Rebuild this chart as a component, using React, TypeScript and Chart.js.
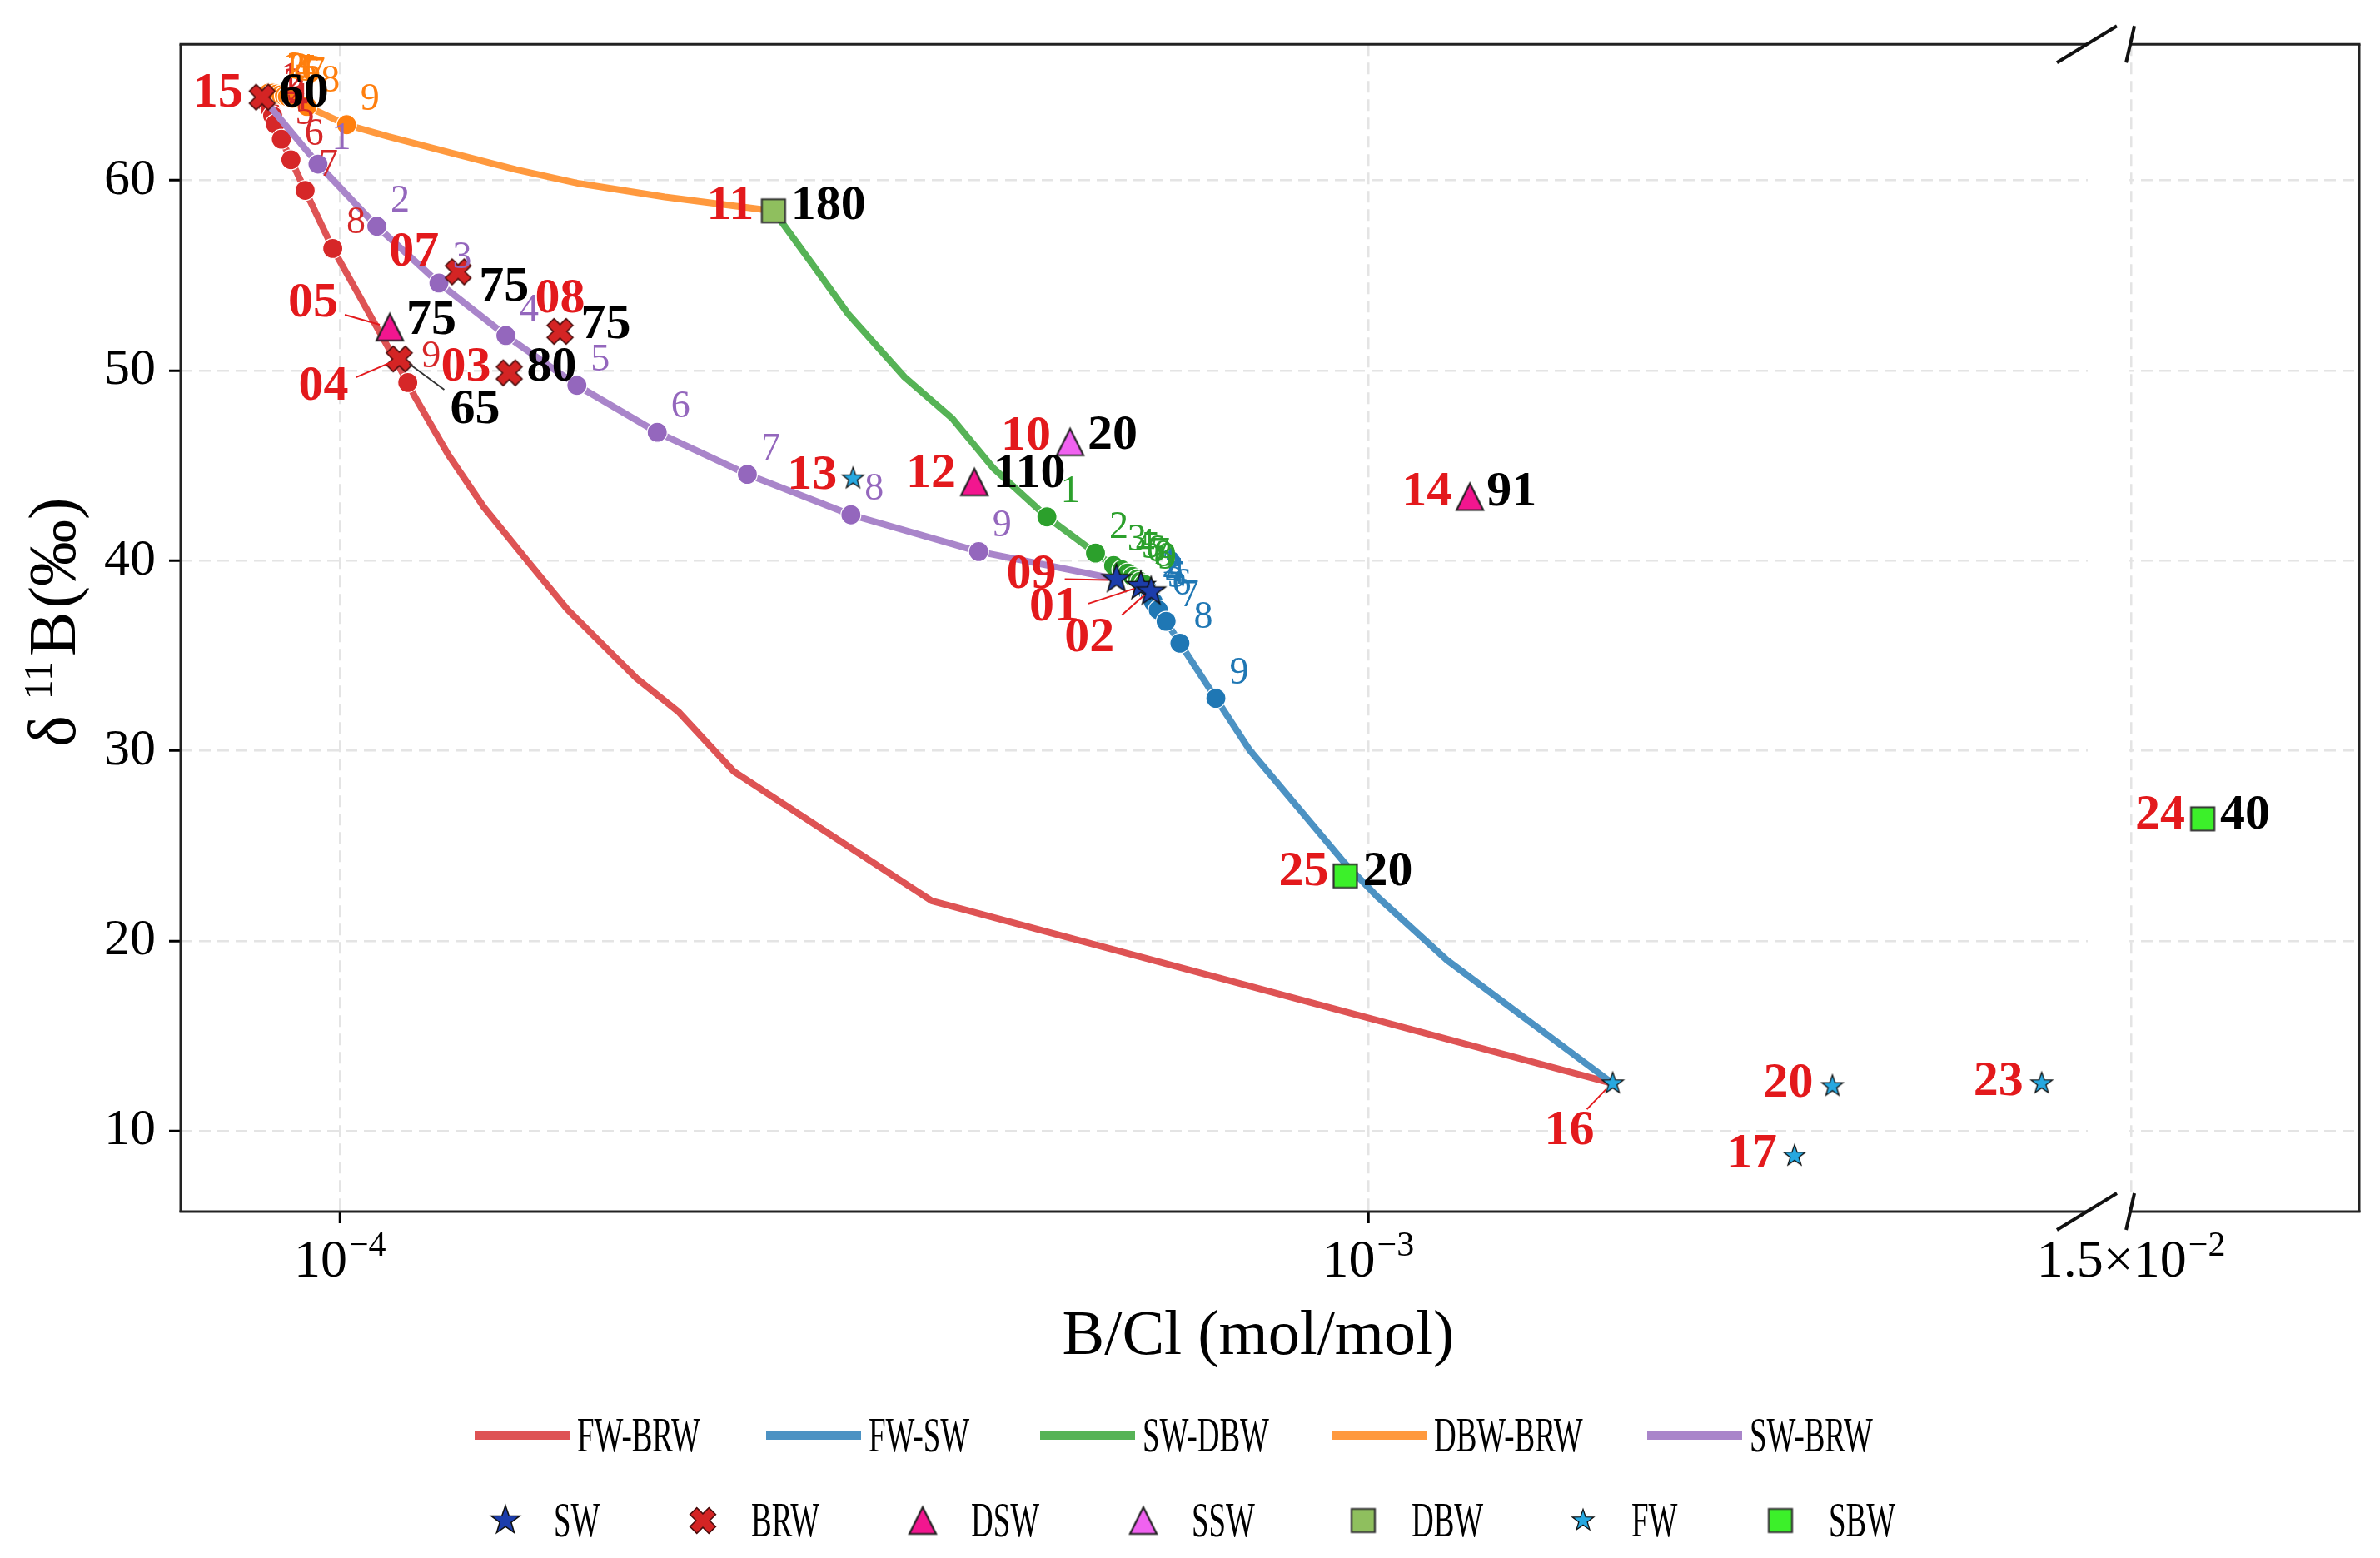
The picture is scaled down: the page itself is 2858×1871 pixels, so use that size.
import { useEffect, useRef } from "react"
import { Chart, registerables, LogarithmicScale } from "chart.js"

Chart.register(...registerables)

const FONT = '"Liberation Serif", "Times New Roman", serif'

// ---- axes ----
const X_LEFT = [7e-5, 5e-3] // left part of the broken B/Cl axis
const X_RIGHT = [1.5e-2, 2.5e-2] // right part after the break
const X_TICKS = [1e-4, 1e-3, 1.5e-2]
const X_TICK_BASE = ["10", "10", "1.5×10"]
const X_TICK_EXP = ["−4", "−3", "−2"]
const Y_MIN = 5.76
const Y_MAX = 67.16
const Y_TICKS = [10, 20, 30, 40, 50, 60]

// ---- mixing curves (B/Cl, δ11B), mixing steps 1..9 ----
const CURVE_NAMES = ["FW-BRW", "FW-SW", "SW-DBW", "DBW-BRW", "SW-BRW"]

const FW_BRW_X = [8.4e-5, 8.49e-5, 8.55e-5, 8.6e-5, 8.65e-5, 8.77e-5, 8.96e-5, 9.25e-5, 9.84e-5, 1.164e-4, 1.182e-4, 1.274e-4, 1.38e-4, 1.525e-4, 1.664e-4, 1.826e-4, 1.943e-4, 2.133e-4, 2.417e-4, 3.763e-4, 1.729e-3]
const FW_BRW_Y = [64.38, 64.06, 63.76, 63.41, 62.97, 62.17, 61.09, 59.48, 56.42, 49.37, 48.64, 45.59, 42.82, 39.92, 37.44, 35.26, 33.81, 32.06, 28.9, 22.1, 12.5]
const FW_BRW_STEP = ["", "1", "2", "3", "4", "5", "6", "7", "8", "9", "", "", "", "", "", "", "", "", "", "", ""]

const FW_SW_X = [6.07e-4, 6.09e-4, 6.11e-4, 6.14e-4, 6.16e-4, 6.18e-4, 6.25e-4, 6.36e-4, 6.56e-4, 7.11e-4, 7.67e-4, 8.6e-4, 9.5e-4, 1.021e-3, 1.193e-3, 1.729e-3]
const FW_SW_Y = [38.73, 38.56, 38.34, 38.17, 37.99, 37.83, 37.41, 36.81, 35.66, 32.76, 30.03, 26.84, 24.06, 22.32, 18.99, 12.5]
const FW_SW_STEP = ["", "1", "2", "3", "4", "5", "6", "7", "8", "9", "", "", "", "", "", ""]

const SW_DBW_X = [2.64e-4, 2.88e-4, 3.12e-4, 3.54e-4, 3.94e-4, 4.32e-4, 4.87e-4, 5.43e-4, 5.655e-4, 5.76e-4, 5.835e-4, 5.9e-4, 5.96e-4, 6.0e-4, 6.05e-4, 6.09e-4]
const SW_DBW_Y = [58.4, 55.6, 52.98, 49.66, 47.48, 44.86, 42.3, 40.4, 39.74, 39.52, 39.35, 39.17, 39.04, 38.91, 38.78, 38.55]
const SW_DBW_STEP = ["", "", "", "", "", "", "1", "2", "3", "4", "5", "6", "7", "8", "9", ""]

const DBW_BRW_X = [8.4e-5, 8.52e-5, 8.6e-5, 8.68e-5, 8.76e-5, 8.83e-5, 8.89e-5, 8.99e-5, 9.29e-5, 1.015e-4, 1.114e-4, 1.285e-4, 1.483e-4, 1.708e-4, 2.07e-4, 2.64e-4]
const DBW_BRW_Y = [64.38, 64.59, 64.59, 64.54, 64.5, 64.45, 64.41, 64.32, 63.89, 62.93, 62.31, 61.44, 60.57, 59.84, 59.13, 58.4]
const DBW_BRW_STEP = ["", "1", "2", "3", "4", "5", "6", "7", "8", "9", "", "", "", "", "", ""]

const SW_BRW_X = [8.4e-5, 9.52e-5, 1.086e-4, 1.248e-4, 1.45e-4, 1.7e-4, 2.035e-4, 2.49e-4, 3.14e-4, 4.18e-4, 5.69e-4]
const SW_BRW_Y = [64.38, 60.86, 57.59, 54.6, 51.84, 49.22, 46.75, 44.54, 42.41, 40.48, 39.03]
const SW_BRW_STEP = ["", "1", "2", "3", "4", "5", "6", "7", "8", "9", ""]

// ---- samples ----
const GROUP_NAMES = ["SW", "BRW", "DSW", "SSW", "DBW", "FW", "SBW"]

const SW_ID = ["09", "01", "02"]
const SW_X = [5.69e-4, 6.01e-4, 6.15e-4]
const SW_Y = [39.03, 38.66, 38.37]

const BRW_ID = ["15", "07", "08", "03", "04"]
const BRW_X = [8.4e-5, 1.303e-4, 1.637e-4, 1.461e-4, 1.142e-4]
const BRW_Y = [64.38, 55.19, 52.06, 49.88, 50.61]
const BRW_VAL = ["60", "75", "75", "80", "65"]

const DSW_ID = ["05", "12", "14"]
const DSW_X = [1.118e-4, 4.14e-4, 1.256e-3]
const DSW_Y = [52.28, 44.13, 43.36]
const DSW_VAL = ["75", "110", "91"]

const SSW_ID = ["10"]
const SSW_X = [5.13e-4]
const SSW_Y = [46.24]
const SSW_VAL = ["20"]

const DBW_ID = ["11"]
const DBW_X = [2.64e-4]
const DBW_Y = [58.4]
const DBW_VAL = ["180"]

const FW_ID = ["16", "13", "20", "17", "23"]
const FW_X = [1.729e-3, 3.155e-4, 2.828e-3, 2.598e-3, 4.519e-3]
const FW_Y = [12.5, 44.32, 12.36, 8.69, 12.5]

const SBW_ID = ["25", "24"]
const SBW_X = [9.5e-4, 1.761e-2]
const SBW_Y = [23.41, 26.42]
const SBW_VAL = ["20", "40"]

// ---- styles ----
const LINE_COLORS = ["#de5354", "#4c92c3", "#56b356", "#ff993e", "#a985ca"]
const DOT_COLORS = ["#d62728", "#1f77b4", "#2ca02c", "#ff7f0e", "#9467bd"]
const ID_RED = "#e3191c"
const GRID = "#e4e4e4"

type MarkStyle = { shape: string; size: number; fill: string; stroke: string; lw: number }
const MARKER_STYLE: Record<string, MarkStyle> = {
  SW: { shape: "star", size: 18, fill: "#1c3dab", stroke: "#111", lw: 1.6 },
  BRW: { shape: "x", size: 16, fill: "#d42424", stroke: "#4a0d0d", lw: 1.6 },
  DSW: { shape: "tri", size: 16, fill: "#f2168f", stroke: "#222", lw: 2.2 },
  SSW: { shape: "tri", size: 16, fill: "#f062f0", stroke: "#222", lw: 2.2 },
  DBW: { shape: "square", size: 14, fill: "#8fbf5e", stroke: "#333", lw: 2.2 },
  FW: { shape: "star", size: 13.5, fill: "#27a8e0", stroke: "#111", lw: 1.3 },
  SBW: { shape: "square", size: 14, fill: "#3cf02a", stroke: "#333", lw: 2.2 },
}

// label offsets (px) from each sample marker
const LABEL_AT: Record<string, { id: number[]; val?: number[]; lead?: number[]; valLead?: number[] }> = {
  "15": { id: [-53, -4], val: [50, -4] },
  "07": { id: [-53, -23], val: [55, 19] },
  "08": { id: [0, -38], val: [55, -7] },
  "05": { id: [-92, -28], val: [50, -7], lead: [-54, -15, -12, -3] },
  "04": { id: [-91, 33], val: [91, 61], lead: [-52, 22, -10, 4], valLead: [12, 6, 54, 37] },
  "03": { id: [-52, -6], val: [51, -6] },
  "11": { id: [-52, -6], val: [66, -6] },
  "10": { id: [-53, -6], val: [51, -7] },
  "12": { id: [-52, -9], val: [66, -9] },
  "13": { id: [-49, -3] },
  "09": { id: [-102, -5], lead: [-62, 0, -10, 1] },
  "01": { id: [-104, 26], lead: [-63, 21, -8, 3] },
  "02": { id: [-74, 56], lead: [-35, 28, -8, 4] },
  "14": { id: [-52, -5], val: [50, -5] },
  "25": { id: [-50, -5], val: [51, -5] },
  "24": { id: [-51, -4], val: [51, -4] },
  "16": { id: [-52, 57], lead: [-31, 31, -8, 7] },
  "20": { id: [-53, -3] },
  "17": { id: [-51, -2] },
  "23": { id: [-52, -2] },
}

const LEGEND_LINE_X = [570, 920, 1249, 1599, 1978]
const LEGEND_MARK_X = [607, 844, 1108, 1373, 1637, 1901, 2138]

// ---- broken log scale ----
const BREAK_GAP = 0.0203
const LEFT_DEC = Math.log10(X_LEFT[1] / X_LEFT[0])
const RIGHT_DEC = Math.log10(X_RIGHT[1] / X_RIGHT[0])
const UNIT = (1 - BREAK_GAP) / (LEFT_DEC + RIGHT_DEC)

function toDecimal(v: number) {
  if (v <= X_LEFT[1]) return Math.log10(v / X_LEFT[0]) * UNIT
  if (v >= X_RIGHT[0]) return LEFT_DEC * UNIT + BREAK_GAP + Math.log10(v / X_RIGHT[0]) * UNIT
  return LEFT_DEC * UNIT + (BREAK_GAP * (v - X_LEFT[1])) / (X_RIGHT[0] - X_LEFT[1])
}

class BrokenLogScale extends LogarithmicScale {
  static id = "brokenLog"
  determineDataLimits() {
    this.min = X_LEFT[0]
    this.max = X_RIGHT[1]
  }
  buildTicks() {
    return X_TICKS.map((value) => ({ value }))
  }
  getPixelForValue(value: number) {
    return this.getPixelForDecimal(toDecimal(value))
  }
  getValueForPixel(pixel: number) {
    const d = this.getDecimalForPixel(pixel)
    const l = LEFT_DEC * UNIT
    if (d <= l) return X_LEFT[0] * Math.pow(10, d / UNIT)
    return X_RIGHT[0] * Math.pow(10, (d - l - BREAK_GAP) / UNIT)
  }
}
Chart.register(BrokenLogScale)

function makeMarker(st: MarkStyle) {
  const s = st.size
  const d = Math.ceil(2 * s + 2 * st.lw + 4)
  const c = document.createElement("canvas")
  c.width = d
  c.height = d
  const g = c.getContext("2d")!
  g.translate(d / 2, d / 2)
  g.beginPath()
  if (st.shape === "star") {
    for (let i = 0; i < 10; i++) {
      const r = i % 2 === 0 ? s : s * 0.4
      const a = -Math.PI / 2 + (i * Math.PI) / 5
      if (i === 0) g.moveTo(r * Math.cos(a), r * Math.sin(a))
      else g.lineTo(r * Math.cos(a), r * Math.sin(a))
    }
  } else if (st.shape === "x") {
    const w = s * 0.36
    const pts = [[-w, -s], [w, -s], [w, -w], [s, -w], [s, w], [w, w], [w, s], [-w, s], [-w, w], [-s, w], [-s, -w], [-w, -w]]
    const k = Math.SQRT1_2
    pts.forEach(([px, py], i) => {
      const rx = (px - py) * k
      const ry = (px + py) * k
      if (i === 0) g.moveTo(rx, ry)
      else g.lineTo(rx, ry)
    })
  } else if (st.shape === "tri") {
    g.moveTo(0, -s)
    g.lineTo(s, s)
    g.lineTo(-s, s)
  } else {
    g.rect(-s, -s, 2 * s, 2 * s)
  }
  g.closePath()
  g.fillStyle = st.fill
  g.fill()
  g.lineJoin = "miter"
  g.lineWidth = st.lw
  g.strokeStyle = st.stroke
  g.stroke()
  return c
}

const CURVES = [
  { xs: FW_BRW_X, ys: FW_BRW_Y, steps: FW_BRW_STEP },
  { xs: FW_SW_X, ys: FW_SW_Y, steps: FW_SW_STEP },
  { xs: SW_DBW_X, ys: SW_DBW_Y, steps: SW_DBW_STEP },
  { xs: DBW_BRW_X, ys: DBW_BRW_Y, steps: DBW_BRW_STEP },
  { xs: SW_BRW_X, ys: SW_BRW_Y, steps: SW_BRW_STEP },
]

const GROUPS = [
  { ids: SW_ID, xs: SW_X, ys: SW_Y, vals: [] as string[] },
  { ids: BRW_ID, xs: BRW_X, ys: BRW_Y, vals: BRW_VAL },
  { ids: DSW_ID, xs: DSW_X, ys: DSW_Y, vals: DSW_VAL },
  { ids: SSW_ID, xs: SSW_X, ys: SSW_Y, vals: SSW_VAL },
  { ids: DBW_ID, xs: DBW_X, ys: DBW_Y, vals: DBW_VAL },
  { ids: FW_ID, xs: FW_X, ys: FW_Y, vals: [] as string[] },
  { ids: SBW_ID, xs: SBW_X, ys: SBW_Y, vals: SBW_VAL },
]

function line(ctx: CanvasRenderingContext2D, x1: number, y1: number, x2: number, y2: number) {
  ctx.beginPath()
  ctx.moveTo(x1, y1)
  ctx.lineTo(x2, y2)
  ctx.stroke()
}

export default function App() {
  const canvasRef = useRef<HTMLCanvasElement>(null)
  const chartRef = useRef<Chart | null>(null)

  useEffect(() => {
    if (!canvasRef.current) return
    if (chartRef.current) chartRef.current.destroy()

    const marks: Record<string, HTMLCanvasElement> = {}
    GROUP_NAMES.forEach((n) => (marks[n] = makeMarker(MARKER_STYLE[n])))

    const curveSets = CURVES.map((c, k) => ({
      label: CURVE_NAMES[k],
      data: c.xs.map((x, i) => ({ x, y: c.ys[i] })),
      showLine: true,
      borderColor: LINE_COLORS[k],
      borderWidth: 8,
      borderJoinStyle: "round" as const,
      borderCapStyle: "round" as const,
      tension: 0,
      pointRadius: c.steps.map((s) => (s ? 12 : 0)),
      pointBackgroundColor: DOT_COLORS[k],
      pointBorderColor: "#ffffff",
      pointBorderWidth: 1.2,
      order: 14 - k,
    }))

    const markSets = GROUPS.map((g, k) => ({
      label: GROUP_NAMES[k],
      data: g.xs.map((x, i) => ({ x, y: g.ys[i] })),
      showLine: false,
      pointStyle: marks[GROUP_NAMES[k]],
      pointRadius: 10,
      order: 0,
    }))

    const decor = {
      id: "decor",
      beforeDatasetsDraw(chart: Chart) {
        const { ctx, chartArea: a } = chart
        const x = chart.scales.x
        const gl = x.getPixelForValue(X_LEFT[1])
        const gr = x.getPixelForValue(X_RIGHT[0])
        ctx.save()
        ctx.fillStyle = "#ffffff"
        ctx.fillRect(gl + 1, a.top, gr - gl - 3, a.bottom - a.top)
        ctx.restore()
      },
      afterDatasetsDraw(chart: Chart) {
        const { ctx } = chart
        const x = chart.scales.x
        const y = chart.scales.y
        ctx.save()
        ctx.textAlign = "center"
        ctx.textBaseline = "middle"
        // mixing step numbers
        ctx.font = `46px ${FONT}`
        CURVES.forEach((c, k) => {
          ctx.fillStyle = DOT_COLORS[k]
          c.steps.forEach((s, i) => {
            if (!s) return
            ctx.fillText(s, x.getPixelForValue(c.xs[i]) + 28, y.getPixelForValue(c.ys[i]) - 30)
          })
        })
        // sample labels
        ctx.font = `bold 60px ${FONT}`
        ctx.lineWidth = 2
        GROUPS.forEach((g) => {
          g.ids.forEach((id, i) => {
            const px = x.getPixelForValue(g.xs[i])
            const py = y.getPixelForValue(g.ys[i])
            const at = LABEL_AT[id]
            if (!at) return
            if (at.lead) {
              ctx.strokeStyle = ID_RED
              line(ctx, px + at.lead[0], py + at.lead[1], px + at.lead[2], py + at.lead[3])
            }
            if (at.valLead) {
              ctx.strokeStyle = "#333333"
              line(ctx, px + at.valLead[0], py + at.valLead[1], px + at.valLead[2], py + at.valLead[3])
            }
            ctx.fillStyle = ID_RED
            ctx.fillText(id, px + at.id[0], py + at.id[1])
            if (at.val && g.vals[i]) {
              ctx.fillStyle = "#000000"
              ctx.fillText(g.vals[i], px + at.val[0], py + at.val[1])
            }
          })
        })
        ctx.restore()
      },
      afterDraw(chart: Chart) {
        const { ctx, chartArea: a } = chart
        const x = chart.scales.x
        const gl = x.getPixelForValue(X_LEFT[1])
        const gr = x.getPixelForValue(X_RIGHT[0])
        ctx.save()
        // frame with the axis break
        ctx.strokeStyle = "#222222"
        ctx.lineWidth = 3
        line(ctx, a.left, a.top, a.left, a.bottom)
        line(ctx, a.right, a.top, a.right, a.bottom)
        for (const yy of [a.top, a.bottom]) {
          line(ctx, a.left - 1.5, yy, gl, yy)
          line(ctx, gr, yy, a.right + 1.5, yy)
          ctx.save()
          ctx.lineWidth = 4
          ctx.strokeStyle = "#111111"
          line(ctx, gl - 36, yy + 22, gl + 36, yy - 22)
          line(ctx, gr - 6, yy + 22, gr + 4, yy - 22)
          ctx.restore()
        }
        // x tick labels with exponents
        ctx.fillStyle = "#000000"
        ctx.textAlign = "left"
        ctx.textBaseline = "alphabetic"
        X_TICKS.forEach((v, i) => {
          const cx = x.getPixelForValue(v)
          ctx.font = `64px ${FONT}`
          const wb = ctx.measureText(X_TICK_BASE[i]).width
          ctx.font = `42px ${FONT}`
          const we = ctx.measureText(X_TICK_EXP[i]).width
          const x0 = cx - (wb + we + 2) / 2
          ctx.font = `64px ${FONT}`
          ctx.fillText(X_TICK_BASE[i], x0, a.bottom + 78)
          ctx.font = `42px ${FONT}`
          ctx.fillText(X_TICK_EXP[i], x0 + wb + 2, a.bottom + 53)
        })
        // x title
        ctx.font = `76px ${FONT}`
        ctx.textAlign = "center"
        ctx.fillText("B/Cl (mol/mol)", 1511, a.bottom + 171)
        // y title: δ 11B (‰)
        ctx.save()
        ctx.translate(90, (a.top + a.bottom) / 2 - 7)
        ctx.rotate(-Math.PI / 2)
        ctx.textAlign = "left"
        const parts = [
          { t: "δ", f: `80px ${FONT}`, dy: 0, gap: 19 },
          { t: "11", f: `48px ${FONT}`, dy: -28, gap: 6 },
          { t: "B", f: `80px ${FONT}`, dy: 0, gap: 4 },
          { t: "(‰)", f: `80px ${FONT}`, dy: 0, gap: 0 },
        ]
        let total = 0
        const widths = parts.map((p) => {
          ctx.font = p.f
          const w = ctx.measureText(p.t).width
          total += w + p.gap
          return w
        })
        let cx = -total / 2
        parts.forEach((p, i) => {
          ctx.font = p.f
          ctx.fillText(p.t, cx, p.dy)
          cx += widths[i] + p.gap
        })
        ctx.restore()
        // legend, row 1: mixing lines
        const legendText = (t: string, tx: number, ty: number) => {
          ctx.save()
          ctx.translate(tx, ty)
          ctx.scale(0.66, 1.05)
          ctx.font = `56px ${FONT}`
          ctx.textAlign = "left"
          ctx.fillStyle = "#000000"
          ctx.fillText(t, 0, 0)
          ctx.restore()
        }
        const row1 = 1724
        const row2 = 1826
        ctx.lineCap = "butt"
        CURVE_NAMES.forEach((n, k) => {
          const lx = LEGEND_LINE_X[k]
          ctx.strokeStyle = LINE_COLORS[k]
          ctx.lineWidth = 10
          line(ctx, lx, row1, lx + 114, row1)
          legendText(n, lx + 123, row1 + 19)
        })
        // legend, row 2: sample types
        GROUP_NAMES.forEach((n, k) => {
          const mx = LEGEND_MARK_X[k]
          const m = marks[n]
          ctx.drawImage(m, mx - m.width / 2, row2 - m.height / 2)
          legendText(n, mx + 58, row2 + 19)
        })
        ctx.restore()
      },
    }

    chartRef.current = new Chart(canvasRef.current, {
      type: "scatter",
      data: { datasets: [...curveSets, ...markSets] as any },
      options: {
        animation: false,
        responsive: true,
        maintainAspectRatio: false,
        events: [],
        layout: { padding: { top: 49, right: 25, left: 0, bottom: 0 } },
        plugins: { legend: { display: false }, tooltip: { enabled: false } },
        scales: {
          x: {
            type: "brokenLog" as any,
            afterFit: (s: any) => {
              s.height = 416
            },
            ticks: { display: false },
            border: { display: false, dash: [14, 8] },
            grid: {
              color: GRID,
              lineWidth: 2.5,
              tickLength: 14,
              tickWidth: 3,
              tickBorderDash: [],
              tickColor: (c: any) => (c.tick && c.tick.value === X_RIGHT[0] ? "rgba(0,0,0,0)" : "#000000"),
            },
          },
          y: {
            type: "linear",
            min: Y_MIN,
            max: Y_MAX,
            afterFit: (s: any) => {
              s.width = 217
            },
            afterBuildTicks: (s: any) => {
              s.ticks = Y_TICKS.map((value) => ({ value }))
            },
            ticks: { color: "#000000", font: { family: FONT, size: 62 }, padding: 16 },
            border: { display: false, dash: [14, 8] },
            grid: {
              color: GRID,
              lineWidth: 2.5,
              tickLength: 14,
              tickWidth: 3,
              tickBorderDash: [],
              tickColor: "#000000",
            },
          },
        } as any,
      },
      plugins: [decor],
    })

    return () => {
      if (chartRef.current) {
        chartRef.current.destroy()
        chartRef.current = null
      }
    }
  }, [])

  return (
    <div style={{ position: "absolute", left: 0, top: 0, width: 2858, height: 1871, background: "#ffffff" }}>
      <canvas ref={canvasRef} />
    </div>
  )
}
